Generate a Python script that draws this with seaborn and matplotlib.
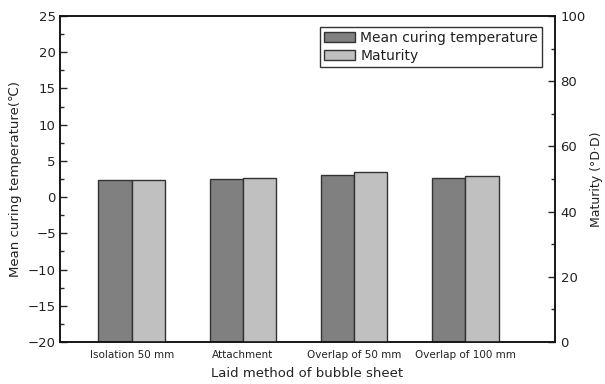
import numpy as np
import pandas as pd
import matplotlib
matplotlib.use("Agg")
import matplotlib.pyplot as plt
import seaborn as sns
from matplotlib.patches import Patch
from matplotlib.ticker import MultipleLocator

# ---- data ----
methods = ["Isolation 50 mm", "Attachment", "Overlap of 50 mm", "Overlap of 100 mm"]
temp = [2.4, 2.55, 3.0, 2.65]            # Mean curing temperature (℃)
maturity = [49.6, 50.4, 52.0, 50.8]      # Maturity (°D·D)
series = ["Mean curing temperature", "Maturity"]
colors = ["#808080", "#c0c0c0"]
temp_floor = -20                          # bottom of the temperature axis

sns.set_style("ticks")
plt.rcParams['font.family'] = ['DejaVu Sans', 'Noto Sans CJK KR']
txt = "#222222"

df = pd.DataFrame({
    "method": methods * 2,
    "series": [series[0]] * len(methods) + [series[1]] * len(methods),
    "temp": list(np.array(temp) - temp_floor) + [np.nan] * len(methods),
    "maturity": [np.nan] * len(methods) + maturity,
})
pal = dict(zip(series, colors))

fig, ax = plt.subplots(figsize=(6.05, 3.84), dpi=100)
fig.subplots_adjust(left=60 / 605, right=555 / 605, top=1 - 16 / 384, bottom=1 - 342 / 384)
ax2 = ax.twinx()

bar_kw = dict(hue="series", hue_order=series, palette=pal, width=0.6, gap=0,
              dodge=True, errorbar=None, legend=False,
              edgecolor="#333333", linewidth=1.0)
sns.barplot(data=df, x="method", y="temp", order=methods, bottom=temp_floor, ax=ax, **bar_kw)
sns.barplot(data=df, x="method", y="maturity", order=methods, ax=ax2, **bar_kw)

ax.set_xlim(-0.645, 3.807)
ax.set_ylim(-20, 25)
ax2.set_ylim(0, 100)

ax.yaxis.set_major_locator(MultipleLocator(5))
ax.yaxis.set_minor_locator(MultipleLocator(2.5))
ax2.yaxis.set_major_locator(MultipleLocator(20))
ax2.yaxis.set_minor_locator(MultipleLocator(10))

ax.tick_params(axis="y", which="major", direction="in", length=5, width=1, labelsize=9.5, labelcolor=txt, pad=3)
ax.tick_params(axis="y", which="minor", direction="in", length=3, width=1)
ax2.tick_params(axis="y", which="major", direction="in", length=5, width=1, labelsize=9.5, labelcolor=txt, pad=4)
ax2.tick_params(axis="y", which="minor", direction="in", length=3, width=1)
ax.tick_params(axis="x", which="major", length=0, labelsize=7.5, labelcolor=txt, pad=6)

for a in (ax, ax2):
    for s in a.spines.values():
        s.set_visible(True)
        s.set_linewidth(1.1)
        s.set_color("#111111")

ax.set_xlabel("Laid method of bubble sheet", fontsize=9.5, color=txt, labelpad=5)
ax.set_ylabel("Mean curing temperature(℃)", fontsize=9.5, color=txt, labelpad=4)
ax2.set_ylabel("Maturity (°D·D)", fontsize=9, color=txt, labelpad=3)

handles = [Patch(facecolor=c, edgecolor="#333333", linewidth=1.0) for c in colors]
leg = ax2.legend(handles, series, loc="upper right", bbox_to_anchor=(0.974, 0.966),
                 borderaxespad=0, fancybox=False, framealpha=1, edgecolor="#333333",
                 fontsize=10, handlelength=2.2, handleheight=0.75, handletextpad=0.4,
                 labelspacing=0.25, borderpad=0.3)
leg.get_frame().set_linewidth(1.0)
for t in leg.get_texts():
    t.set_color(txt)

fig.savefig("out.png", dpi=100)
